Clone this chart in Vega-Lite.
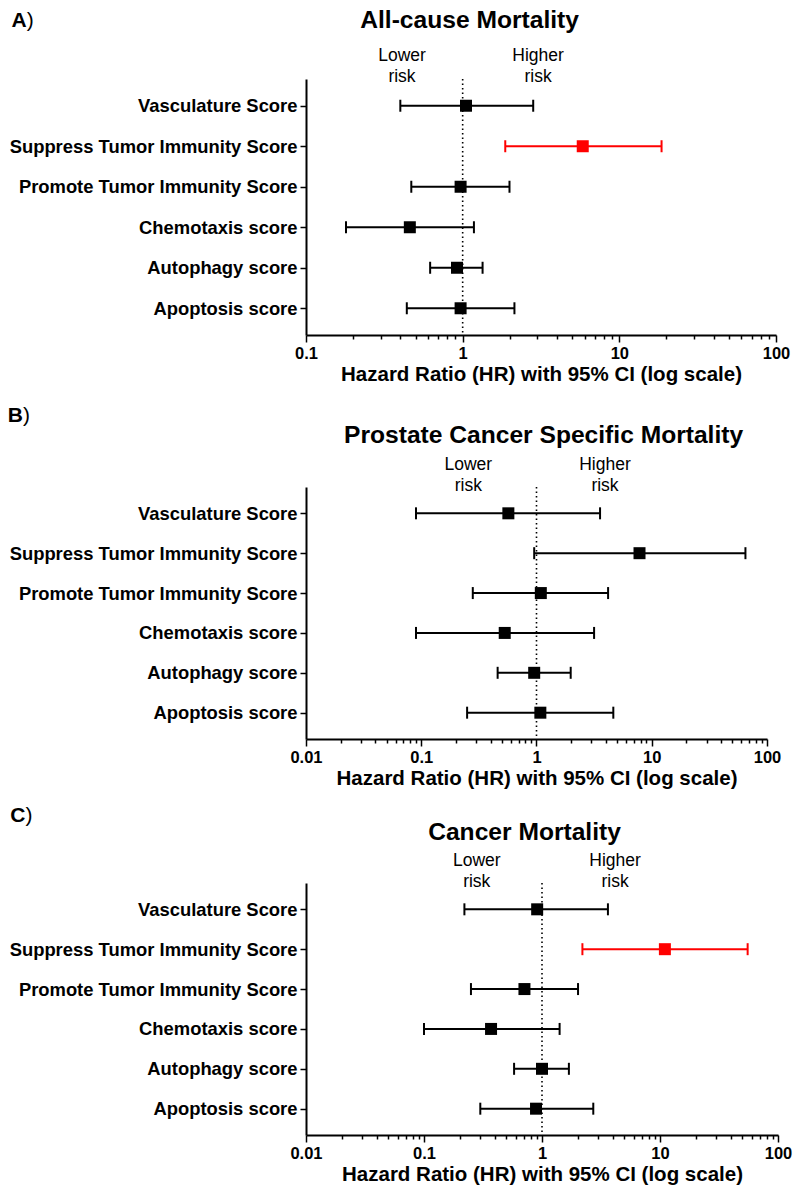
{
  "$schema": "https://vega.github.io/schema/vega-lite/v6.json",
  "background": "white",
  "padding": {"left": 7, "top": 7, "right": 3, "bottom": 3},
  "config": {"view": {"stroke": null}, "font": "Liberation Sans", "text": {"font": "Liberation Sans", "color": "black"}},
  "datasets": {
    "A": [
      {"score": "Vasculature Score", "hr": 1.05, "lo": 0.40, "hi": 2.82, "sig": "no"},
      {"score": "Suppress Tumor Immunity Score", "hr": 5.84, "lo": 1.87, "hi": 18.6, "sig": "yes"},
      {"score": "Promote Tumor Immunity Score", "hr": 0.97, "lo": 0.47, "hi": 1.99, "sig": "no"},
      {"score": "Chemotaxis score", "hr": 0.46, "lo": 0.18, "hi": 1.18, "sig": "no"},
      {"score": "Autophagy score", "hr": 0.92, "lo": 0.62, "hi": 1.34, "sig": "no"},
      {"score": "Apoptosis score", "hr": 0.97, "lo": 0.44, "hi": 2.14, "sig": "no"}
    ],
    "B": [
      {"score": "Vasculature Score", "hr": 0.57, "lo": 0.09, "hi": 3.56, "sig": "no"},
      {"score": "Suppress Tumor Immunity Score", "hr": 7.83, "lo": 0.955, "hi": 65, "sig": "no"},
      {"score": "Promote Tumor Immunity Score", "hr": 1.09, "lo": 0.28, "hi": 4.18, "sig": "no"},
      {"score": "Chemotaxis score", "hr": 0.53, "lo": 0.09, "hi": 3.16, "sig": "no"},
      {"score": "Autophagy score", "hr": 0.955, "lo": 0.46, "hi": 1.98, "sig": "no"},
      {"score": "Apoptosis score", "hr": 1.08, "lo": 0.25, "hi": 4.64, "sig": "no"}
    ],
    "C": [
      {"score": "Vasculature Score", "hr": 0.91, "lo": 0.22, "hi": 3.62, "sig": "no"},
      {"score": "Suppress Tumor Immunity Score", "hr": 11.0, "lo": 2.2, "hi": 55.3, "sig": "yes"},
      {"score": "Promote Tumor Immunity Score", "hr": 0.71, "lo": 0.25, "hi": 2.02, "sig": "no"},
      {"score": "Chemotaxis score", "hr": 0.37, "lo": 0.10, "hi": 1.41, "sig": "no"},
      {"score": "Autophagy score", "hr": 1.0, "lo": 0.58, "hi": 1.69, "sig": "no"},
      {"score": "Apoptosis score", "hr": 0.89, "lo": 0.30, "hi": 2.72, "sig": "no"}
    ],
    "one": [{}]
  },
  "spacing": 20,
  "vconcat": [
    {
      "width": 470, "height": 256,
      "layer": [
        {
          "data": {"name": "A"},
          "encoding": {
            "y": {"field": "score", "type": "nominal", "sort": null, "scale": {"type": "point", "padding": 0.66},
              "axis": {"title": null, "labelFont": "Liberation Sans", "labelFontWeight": "bold", "labelFontSize": 18.4, "labelColor": "black", "labelPadding": 3, "labelLimit": 500, "tickSize": 6, "tickWidth": 1.5, "tickColor": "black", "domainColor": "black", "domainWidth": 2, "grid": false}},
            "color": {"field": "sig", "type": "nominal", "scale": {"domain": ["no", "yes"], "range": ["#000000", "#ff0000"]}, "legend": null}
          },
          "layer": [
            {"mark": {"type": "rule", "strokeWidth": 2}, "encoding": {
              "x": {"field": "lo", "type": "quantitative", "scale": {"type": "log", "domain": [0.1, 100], "nice": false},
                "axis": {"values": [0.1,0.2,0.3,0.4,0.5,0.6,0.7,0.8,0.9,1,2,3,4,5,6,7,8,9,10,20,30,40,50,60,70,80,90,100],
                  "format": "~g", "labelExpr": "indexof([0.01,0.1,1,10,100], datum.value) >= 0 ? datum.label : ''",
                  "labelFlush": false, "labelOverlap": false, "labelFont": "Liberation Sans", "labelFontWeight": "bold", "labelFontSize": 16.5, "labelColor": "black", "labelPadding": 3,
                  "tickSize": {"condition": {"test": "indexof([0.01,0.1,1,10,100], datum.value) >= 0", "value": 7}, "value": 4},
                  "tickWidth": 1.5, "tickColor": "black", "domainColor": "black", "domainWidth": 2, "grid": false,
                  "title": "Hazard Ratio (HR) with 95% CI (log scale)", "titleFont": "Liberation Sans", "titleFontWeight": "bold", "titleFontSize": 20.5, "titleColor": "black", "titlePadding": 3}},
              "x2": {"field": "hi"}}},
            {"mark": {"type": "tick", "thickness": 2, "size": 12, "opacity": 1}, "encoding": {"x": {"field": "lo", "type": "quantitative"}}},
            {"mark": {"type": "tick", "thickness": 2, "size": 12, "opacity": 1}, "encoding": {"x": {"field": "hi", "type": "quantitative"}}},
            {"mark": {"type": "square", "size": 144, "filled": true, "opacity": 1}, "encoding": {"x": {"field": "hr", "type": "quantitative"}}}
          ]
        },
        {"data": {"name": "one"}, "mark": {"type": "rule", "strokeDash": [1.5, 3], "strokeWidth": 1.6, "color": "black"}, "encoding": {"x": {"datum": 1, "type": "quantitative"}}},
        {
          "data": {"name": "one"},
          "encoding": {"y": {"datum": 1, "type": "quantitative", "scale": {"domain": [0, 1], "nice": false, "zero": false}, "axis": null}},
          "layer": [
            {"mark": {"type": "text", "text": "A", "fontWeight": "bold", "fontSize": 21, "align": "right", "baseline": "middle"}, "encoding": {"x": {"datum": 0.00165, "type": "quantitative"}, "y": {"datum": 1.2266, "type": "quantitative"}}},
            {"mark": {"type": "text", "text": ")", "fontWeight": "normal", "fontSize": 21, "align": "left", "baseline": "middle"}, "encoding": {"x": {"datum": 0.00165, "type": "quantitative"}, "y": {"datum": 1.2266, "type": "quantitative"}}},
            {"mark": {"type": "text", "text": "All-cause Mortality", "fontWeight": "bold", "fontSize": 24.6, "align": "center", "baseline": "middle"}, "encoding": {"x": {"datum": 1.107, "type": "quantitative"}, "y": {"datum": 1.2266, "type": "quantitative"}}},
            {"mark": {"type": "text", "text": "Lower\nrisk", "lineBreak": "\n", "lineHeight": 21, "fontSize": 17.5, "align": "center", "baseline": "middle"}, "encoding": {"x": {"datum": 0.41, "type": "quantitative"}, "y": {"datum": 1.09, "type": "quantitative"}}},
            {"mark": {"type": "text", "text": "Higher\nrisk", "lineBreak": "\n", "lineHeight": 21, "fontSize": 17.5, "align": "center", "baseline": "middle"}, "encoding": {"x": {"datum": 3.03, "type": "quantitative"}, "y": {"datum": 1.09, "type": "quantitative"}}}
          ]
        }
      ],
      "resolve": {"scale": {"y": "independent"}, "axis": {"y": "independent"}}
    },
    {
      "spacing": 15,
      "vconcat": [
        {
          "width": 461, "height": 252,
          "layer": [
            {
              "data": {"name": "B"},
              "encoding": {
                "y": {"field": "score", "type": "nominal", "sort": null, "scale": {"type": "point", "padding": 0.66},
                  "axis": {"title": null, "labelFont": "Liberation Sans", "labelFontWeight": "bold", "labelFontSize": 18.4, "labelColor": "black", "labelPadding": 3, "labelLimit": 500, "tickSize": 6, "tickWidth": 1.5, "tickColor": "black", "domainColor": "black", "domainWidth": 2, "grid": false}},
                "color": {"field": "sig", "type": "nominal", "scale": {"domain": ["no", "yes"], "range": ["#000000", "#ff0000"]}, "legend": null}
              },
              "layer": [
                {"mark": {"type": "rule", "strokeWidth": 2}, "encoding": {
                  "x": {"field": "lo", "type": "quantitative", "scale": {"type": "log", "domain": [0.01, 100], "nice": false},
                    "axis": {"values": [0.01,0.02,0.03,0.04,0.05,0.06,0.07,0.08,0.09,0.1,0.2,0.3,0.4,0.5,0.6,0.7,0.8,0.9,1,2,3,4,5,6,7,8,9,10,20,30,40,50,60,70,80,90,100],
                      "format": "~g", "labelExpr": "indexof([0.01,0.1,1,10,100], datum.value) >= 0 ? datum.label : ''",
                      "labelFlush": false, "labelOverlap": false, "labelFont": "Liberation Sans", "labelFontWeight": "bold", "labelFontSize": 16.5, "labelColor": "black", "labelPadding": 3,
                      "tickSize": {"condition": {"test": "indexof([0.01,0.1,1,10,100], datum.value) >= 0", "value": 7}, "value": 4},
                      "tickWidth": 1.5, "tickColor": "black", "domainColor": "black", "domainWidth": 2, "grid": false,
                      "title": "Hazard Ratio (HR) with 95% CI (log scale)", "titleFont": "Liberation Sans", "titleFontWeight": "bold", "titleFontSize": 20.5, "titleColor": "black", "titlePadding": 3}},
                  "x2": {"field": "hi"}}},
                {"mark": {"type": "tick", "thickness": 2, "size": 12, "opacity": 1}, "encoding": {"x": {"field": "lo", "type": "quantitative"}}},
                {"mark": {"type": "tick", "thickness": 2, "size": 12, "opacity": 1}, "encoding": {"x": {"field": "hi", "type": "quantitative"}}},
                {"mark": {"type": "square", "size": 144, "filled": true, "opacity": 1}, "encoding": {"x": {"field": "hr", "type": "quantitative"}}}
              ]
            },
            {"data": {"name": "one"}, "mark": {"type": "rule", "strokeDash": [1.5, 3], "strokeWidth": 1.6, "color": "black"}, "encoding": {"x": {"datum": 1, "type": "quantitative"}}},
            {
              "data": {"name": "one"},
              "encoding": {"y": {"datum": 1, "type": "quantitative", "scale": {"domain": [0, 1], "nice": false, "zero": false}, "axis": null}},
              "layer": [
                {"mark": {"type": "text", "text": "B", "fontWeight": "bold", "fontSize": 21, "align": "right", "baseline": "middle"}, "encoding": {"x": {"datum": 0.000035, "type": "quantitative"}, "y": {"datum": 1.2817, "type": "quantitative"}}},
                {"mark": {"type": "text", "text": ")", "fontWeight": "normal", "fontSize": 21, "align": "left", "baseline": "middle"}, "encoding": {"x": {"datum": 0.000035, "type": "quantitative"}, "y": {"datum": 1.2817, "type": "quantitative"}}},
                {"mark": {"type": "text", "text": "Prostate Cancer Specific Mortality", "fontWeight": "bold", "fontSize": 24.6, "align": "center", "baseline": "middle"}, "encoding": {"x": {"datum": 1.152, "type": "quantitative"}, "y": {"datum": 1.2024, "type": "quantitative"}}},
                {"mark": {"type": "text", "text": "Lower\nrisk", "lineBreak": "\n", "lineHeight": 21, "fontSize": 17.5, "align": "center", "baseline": "middle"}, "encoding": {"x": {"datum": 0.256, "type": "quantitative"}, "y": {"datum": 1.088, "type": "quantitative"}}},
                {"mark": {"type": "text", "text": "Higher\nrisk", "lineBreak": "\n", "lineHeight": 21, "fontSize": 17.5, "align": "center", "baseline": "middle"}, "encoding": {"x": {"datum": 3.93, "type": "quantitative"}, "y": {"datum": 1.088, "type": "quantitative"}}}
              ]
            }
          ],
          "resolve": {"scale": {"y": "independent"}, "axis": {"y": "independent"}}
        },
        {
          "width": 472, "height": 252,
          "layer": [
            {
              "data": {"name": "C"},
              "encoding": {
                "y": {"field": "score", "type": "nominal", "sort": null, "scale": {"type": "point", "padding": 0.66},
                  "axis": {"title": null, "labelFont": "Liberation Sans", "labelFontWeight": "bold", "labelFontSize": 18.4, "labelColor": "black", "labelPadding": 3, "labelLimit": 500, "tickSize": 6, "tickWidth": 1.5, "tickColor": "black", "domainColor": "black", "domainWidth": 2, "grid": false}},
                "color": {"field": "sig", "type": "nominal", "scale": {"domain": ["no", "yes"], "range": ["#000000", "#ff0000"]}, "legend": null}
              },
              "layer": [
                {"mark": {"type": "rule", "strokeWidth": 2}, "encoding": {
                  "x": {"field": "lo", "type": "quantitative", "scale": {"type": "log", "domain": [0.01, 100], "nice": false},
                    "axis": {"values": [0.01,0.02,0.03,0.04,0.05,0.06,0.07,0.08,0.09,0.1,0.2,0.3,0.4,0.5,0.6,0.7,0.8,0.9,1,2,3,4,5,6,7,8,9,10,20,30,40,50,60,70,80,90,100],
                      "format": "~g", "labelExpr": "indexof([0.01,0.1,1,10,100], datum.value) >= 0 ? datum.label : ''",
                      "labelFlush": false, "labelOverlap": false, "labelFont": "Liberation Sans", "labelFontWeight": "bold", "labelFontSize": 16.5, "labelColor": "black", "labelPadding": 3,
                      "tickSize": {"condition": {"test": "indexof([0.01,0.1,1,10,100], datum.value) >= 0", "value": 7}, "value": 4},
                      "tickWidth": 1.5, "tickColor": "black", "domainColor": "black", "domainWidth": 2, "grid": false,
                      "title": "Hazard Ratio (HR) with 95% CI (log scale)", "titleFont": "Liberation Sans", "titleFontWeight": "bold", "titleFontSize": 20.5, "titleColor": "black", "titlePadding": 3}},
                  "x2": {"field": "hi"}}},
                {"mark": {"type": "tick", "thickness": 2, "size": 12, "opacity": 1}, "encoding": {"x": {"field": "lo", "type": "quantitative"}}},
                {"mark": {"type": "tick", "thickness": 2, "size": 12, "opacity": 1}, "encoding": {"x": {"field": "hi", "type": "quantitative"}}},
                {"mark": {"type": "square", "size": 144, "filled": true, "opacity": 1}, "encoding": {"x": {"field": "hr", "type": "quantitative"}}}
              ]
            },
            {"data": {"name": "one"}, "mark": {"type": "rule", "strokeDash": [1.5, 3], "strokeWidth": 1.6, "color": "black"}, "encoding": {"x": {"datum": 1, "type": "quantitative"}}},
            {
              "data": {"name": "one"},
              "encoding": {"y": {"datum": 1, "type": "quantitative", "scale": {"domain": [0, 1], "nice": false, "zero": false}, "axis": null}},
              "layer": [
                {"mark": {"type": "text", "text": "C", "fontWeight": "bold", "fontSize": 21, "align": "right", "baseline": "middle"}, "encoding": {"x": {"datum": 0.000042, "type": "quantitative"}, "y": {"datum": 1.2659, "type": "quantitative"}}},
                {"mark": {"type": "text", "text": ")", "fontWeight": "normal", "fontSize": 21, "align": "left", "baseline": "middle"}, "encoding": {"x": {"datum": 0.000042, "type": "quantitative"}, "y": {"datum": 1.2659, "type": "quantitative"}}},
                {"mark": {"type": "text", "text": "Cancer Mortality", "fontWeight": "bold", "fontSize": 24.6, "align": "center", "baseline": "middle"}, "encoding": {"x": {"datum": 0.711, "type": "quantitative"}, "y": {"datum": 1.1984, "type": "quantitative"}}},
                {"mark": {"type": "text", "text": "Lower\nrisk", "lineBreak": "\n", "lineHeight": 21, "fontSize": 17.5, "align": "center", "baseline": "middle"}, "encoding": {"x": {"datum": 0.28, "type": "quantitative"}, "y": {"datum": 1.088, "type": "quantitative"}}},
                {"mark": {"type": "text", "text": "Higher\nrisk", "lineBreak": "\n", "lineHeight": 21, "fontSize": 17.5, "align": "center", "baseline": "middle"}, "encoding": {"x": {"datum": 4.16, "type": "quantitative"}, "y": {"datum": 1.088, "type": "quantitative"}}}
              ]
            }
          ],
          "resolve": {"scale": {"y": "independent"}, "axis": {"y": "independent"}}
        }
      ]
    }
  ]
}
